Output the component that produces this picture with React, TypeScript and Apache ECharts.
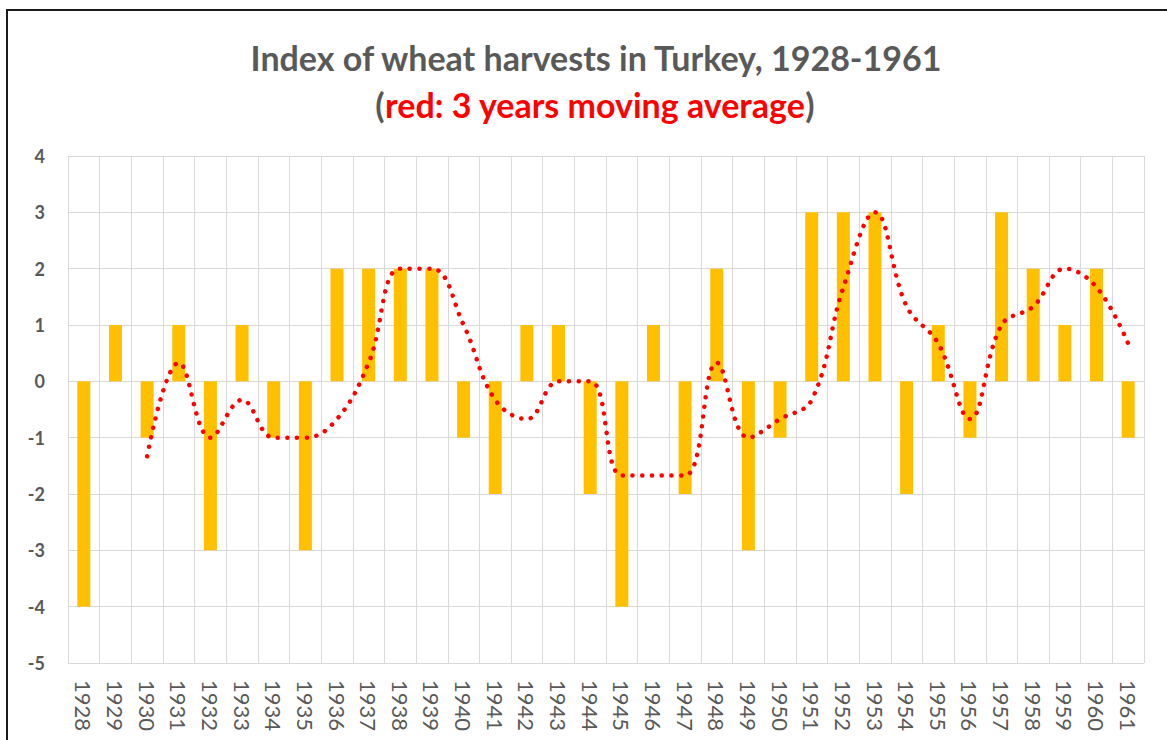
import React, { useEffect, useRef } from "react";
import * as echarts from "echarts";

const years = [
  "1928", "1929", "1930", "1931", "1932", "1933", "1934", "1935", "1936", "1937",
  "1938", "1939", "1940", "1941", "1942", "1943", "1944", "1945", "1946", "1947",
  "1948", "1949", "1950", "1951", "1952", "1953", "1954", "1955", "1956", "1957",
  "1958", "1959", "1960", "1961",
];

const harvestIndex = [
  -4, 1, -1, 1, -3, 1, -1, -3, 2, 2,
  2, 2, -1, -2, 1, 1, -2, -4, 1, -2,
  2, -3, -1, 3, 3, 3, -2, 1, -1, 3,
  2, 1, 2, -1,
];

const movingAverage = [
  null, null, -1.33, 0.33, -1, -0.33, -1, -1, -0.67, 0.33,
  2, 2, 1, -0.33, -0.67, 0, 0, -1.67, -1.67, -1.67,
  0.33, -1, -0.67, -0.33, 1.67, 3, 1.33, 0.67, -0.67, 1,
  1.33, 2, 1.67, 0.67,
];

const yTicks = { min: -5, max: 4, interval: 1 };

const titleText = "Index of wheat harvests in Turkey, 1928-1961";
const subtitleText = "red: 3 years moving average";

export default function App() {
  const ref = useRef<HTMLDivElement>(null);

  useEffect(() => {
    if (!ref.current) return;
    const chart = echarts.init(ref.current, undefined, { renderer: "svg" });
    const font = "Lato, 'Open Sans', sans-serif";
    const gray = "#595959";
    chart.setOption({
      animation: false,
      backgroundColor: "#ffffff",
      textStyle: { fontFamily: font },
      title: [
        {
          text: titleText,
          left: 591,
          top: 35,
          textAlign: "center",
          textStyle: { fontFamily: font, fontSize: 34, fontWeight: "bold", color: gray },
        },
        {
          text: "{g|(}{r|" + subtitleText + "}{g|)}",
          left: 590,
          top: 82,
          textAlign: "center",
          textStyle: {
            fontFamily: font,
            fontSize: 34,
            fontWeight: "bold",
            rich: {
              g: { fontFamily: font, fontSize: 34, fontWeight: "bold", color: gray },
              r: { fontFamily: font, fontSize: 34, fontWeight: "bold", color: "#FF0000" },
            },
          },
        },
      ],
      graphic: [
        {
          type: "rect",
          shape: { x: 7, y: 10, width: 1200, height: 800 },
          style: { fill: "none", stroke: "#1a1a1a", lineWidth: 2 },
          silent: true,
        },
      ],
      grid: { left: 68, right: 23, top: 156, bottom: 77, containLabel: false },
      xAxis: {
        type: "category",
        data: years,
        boundaryGap: true,
        axisLine: { show: true, onZero: true, lineStyle: { color: "#d9d9d9", width: 1 } },
        axisTick: { show: false },
        splitLine: { show: true, lineStyle: { color: "#d9d9d9", width: 1 } },
        axisLabel: {
          rotate: -90,
          interval: 0,
          margin: 17,
          color: gray,
          fontFamily: font,
          fontSize: 22,
        },
        position: "bottom",
      },
      yAxis: {
        type: "value",
        min: yTicks.min,
        max: yTicks.max,
        interval: yTicks.interval,
        axisLine: { show: true, lineStyle: { color: "#d9d9d9", width: 1 } },
        axisTick: { show: false },
        splitLine: { show: true, lineStyle: { color: "#d9d9d9", width: 1 } },
        axisLabel: {
          margin: 23,
          color: gray,
          fontFamily: font,
          fontSize: 18,
          fontWeight: "bold",
        },
      },
      series: [
        {
          name: "Index",
          type: "bar",
          data: harvestIndex,
          barWidth: 13,
          itemStyle: { color: "#FFC000" },
        },
        {
          name: "3 years moving average",
          type: "line",
          data: movingAverage,
          smooth: 0.4,
          symbol: "none",
          connectNulls: false,
          lineStyle: { color: "#FF0000", width: 4.5, type: [0.1, 9.6], cap: "round" },
          z: 5,
        },
      ],
    });
    return () => chart.dispose();
  }, []);

  return (
    <div
      ref={ref}
      style={{ position: "fixed", left: 0, top: 0, width: 1167, height: 740 }}
    />
  );
}
